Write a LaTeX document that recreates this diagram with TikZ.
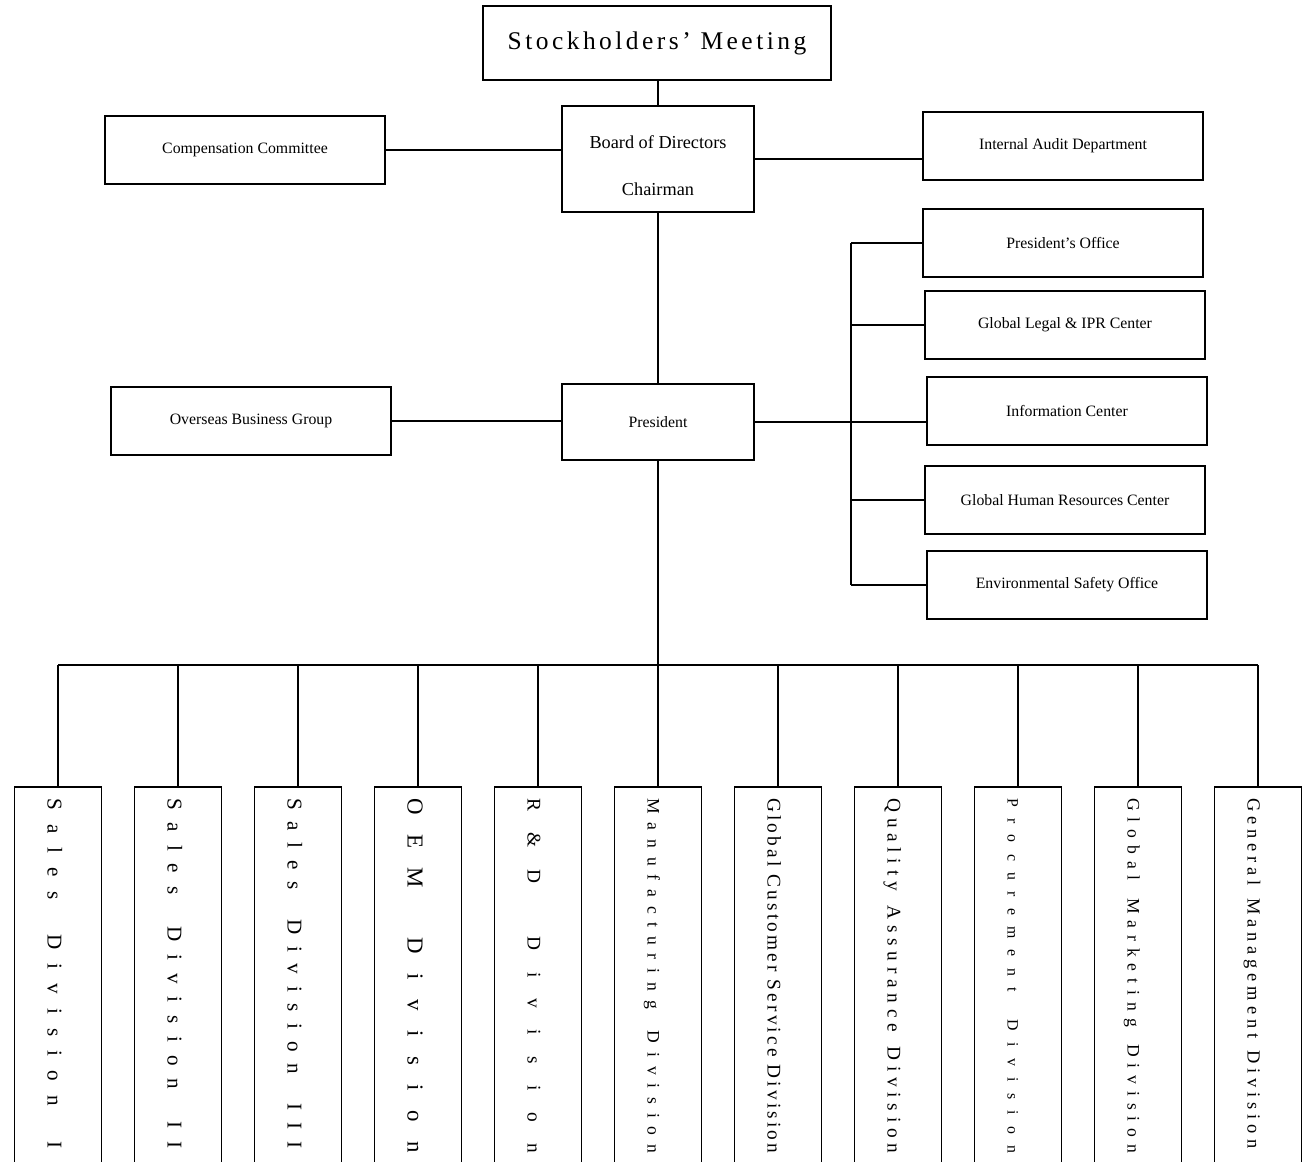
\documentclass[tikz,border=0pt]{standalone}
\usepackage{fontspec}
\setmainfont{Liberation Serif}
\newfontfamily\spacedfont[LetterSpace=13.6]{Liberation Serif}
\usepackage{tikz}

% letters spread over a fixed length, wider gaps between words
\ExplSyntaxOn
\NewDocumentCommand \spreadtext { m m }
  {
    \seq_set_split:Nnn \l_tmpa_seq { ~ } { #2 }
    \hbox_to_wd:nn { #1 }
      {
        \seq_map_inline:Nn \l_tmpa_seq
          {
            \tl_map_inline:nn { ##1 } { ####1 \hskip 0pt plus 1fil \relax }
            \hskip 0pt plus 1.5fil \relax
          }
        \unskip \unskip
      }
  }
\ExplSyntaxOff

\tikzset{
  unit/.style={draw, line width=1pt, minimum width=5.6cm, minimum height=1.36cm, inner sep=0pt, font=\fontsize{9}{11}\selectfont},
  head/.style={draw, line width=1pt, minimum width=3.85cm, inner sep=0pt},
  division/.style={draw, line width=1pt, minimum width=1.74cm, minimum height=7.88cm, anchor=north},
  divlabel/.style={rotate=-90, anchor=base west, inner sep=0pt},
  link/.style={line width=1pt}
}

\begin{document}
\begin{tikzpicture}[x=0.02cm, y=-0.02cm]
	\useasboundingbox (0,0) rectangle (1304,1162);
	% top of the chart
	\node [head, minimum width=6.96cm, minimum height=1.48cm, font=\spacedfont\fontsize{14.5}{17}\selectfont] (meeting) at (657,43) {Stockholders’ Meeting};
	\node [head, minimum height=2.12cm, align=center, font=\fontsize{10.4}{12.5}\selectfont] (board) at (658,159) {\rule{0pt}{15pt}Board of Directors\\[14.5pt]Chairman};
	\node [unit] (comp) at (245,150) {Compensation Committee};
	\node [unit] (audit) at (1063,146) {Internal Audit Department};
	\node [head, minimum height=1.52cm, font=\fontsize{9}{11}\selectfont] (pres) at (658,422) {President};
	\node [unit] (overseas) at (251,421) {Overseas Business Group};
	% staff units
	\node [unit] (office) at (1063,243) {President’s Office};
	\node [unit] (legal) at (1065,325) {Global Legal \& IPR Center};
	\node [unit] (info) at (1067,411) {Information Center};
	\node [unit] (hr) at (1065,500) {Global Human Resources Center};
	\node [unit] (safety) at (1067,585) {Environmental Safety Office};
	\coordinate (spine) at (851,416);
	\coordinate (hub) at (658,665);

	\draw [link] (meeting.south -| board.north) -- (board.north);
	\draw [link] (board) -- (pres);
	\draw [link] (comp.east) -- (comp.east -| board.west);
	\draw [link] (board.east) -- (board.east -| audit.west);
	\draw [link] (overseas.east) -- (overseas.east -| pres.west);
	\draw [link] (pres.east) -- (pres.east -| info.west);
	\draw [link] (spine |- office.west) -- (spine |- safety.west);
	\foreach \staff in {office, legal, hr, safety}
		\draw [link] (spine |- \staff.west) -- (\staff.west);
	\draw [link] (pres.south) -- (hub);

	% divisions
	\foreach \i in {1,...,11} {
		\node [division] (d\i) at (120*\i-62,786) {};
		\draw [link] (hub -| d\i.north) -- (d\i.north);
	}
	\draw [link] (hub -| d1.north) -- (hub -| d11.north);

	\node [divlabel, font=\fontsize{12}{14}\selectfont] (t1) at ([xshift=-0.21cm, yshift=-0.24cm]d1.north) {\spreadtext{7cm}{Sales Division I}};
	\node [divlabel, font=\fontsize{12}{14}\selectfont] (t2) at ([xshift=-0.21cm, yshift=-0.24cm]d2.north) {\spreadtext{7cm}{Sales Division II}};
	\node [divlabel, font=\fontsize{12}{14}\selectfont] (t3) at ([xshift=-0.21cm, yshift=-0.24cm]d3.north) {\spreadtext{7cm}{Sales Division III}};
	\node [divlabel, font=\fontsize{13}{15}\selectfont] (t4) at ([xshift=-0.21cm, yshift=-0.24cm]d4.north) {\spreadtext{7.1cm}{OEM Division}};
	\node [divlabel, font=\fontsize{11}{13}\selectfont] (t5) at ([xshift=-0.21cm, yshift=-0.24cm]d5.north) {\spreadtext{7.1cm}{R\&D Division}};
	\node [divlabel, font=\fontsize{10}{12}\selectfont] (t6) at ([xshift=-0.21cm, yshift=-0.24cm]d6.north) {\spreadtext{7.1cm}{Manufacturing Division}};
	\node [divlabel, font=\fontsize{11}{13}\selectfont] (t7) at ([xshift=-0.21cm, yshift=-0.24cm]d7.north) {\spreadtext{7.1cm}{Global Customer Service Division}};
	\node [divlabel, font=\fontsize{11}{13}\selectfont] (t8) at ([xshift=-0.21cm, yshift=-0.24cm]d8.north) {\spreadtext{7.1cm}{Quality Assurance Division}};
	\node [divlabel, font=\fontsize{9}{11}\selectfont] (t9) at ([xshift=-0.21cm, yshift=-0.24cm]d9.north) {\spreadtext{7.1cm}{Procurement Division}};
	\node [divlabel, font=\fontsize{10}{12}\selectfont] (t10) at ([xshift=-0.21cm, yshift=-0.24cm]d10.north) {\spreadtext{7.1cm}{Global Marketing Division}};
	\node [divlabel, font=\fontsize{10.5}{12.5}\selectfont] (t11) at ([xshift=-0.21cm, yshift=-0.24cm]d11.north) {\spreadtext{7cm}{General Management Division}};
\end{tikzpicture}
\end{document}
